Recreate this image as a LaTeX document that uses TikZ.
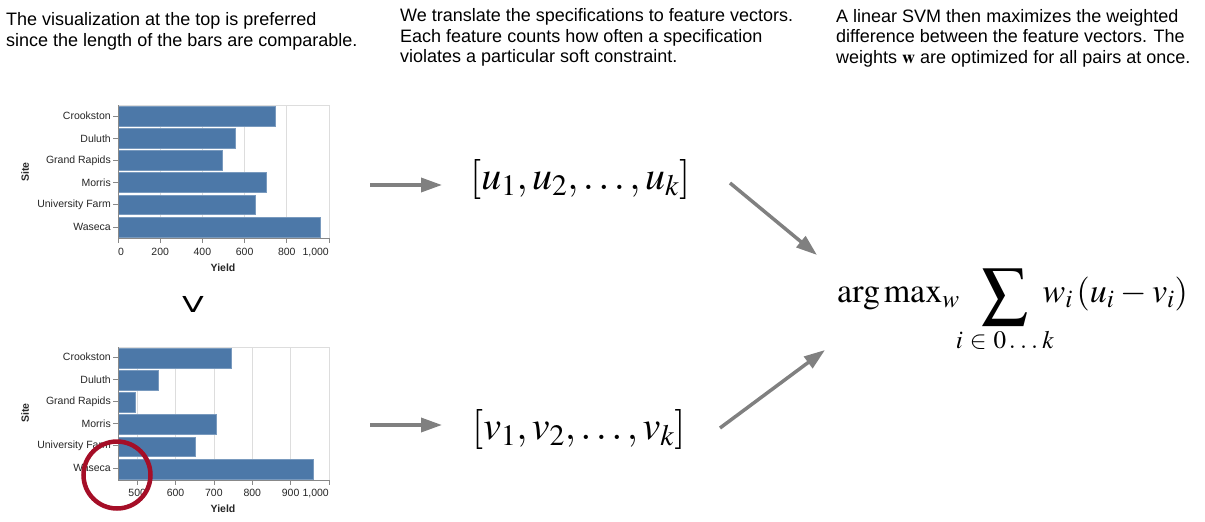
\documentclass[tikz,border=0pt]{standalone}
\usepackage{mathptmx}
\usepackage[no-math]{fontspec}
\setmainfont{Liberation Sans}
\newfontfamily\vfont{DejaVu Sans}
\usetikzlibrary{arrows.meta}
\definecolor{gridc}{HTML}{DDDDDD}
\definecolor{axisc}{HTML}{888888}
\definecolor{barc}{HTML}{4C78A8}
\definecolor{arrc}{HTML}{808080}
\definecolor{circc}{HTML}{A50E27}
\tikzset{
 gridl/.style={draw=gridc, line width=0.8pt},
 axisl/.style={draw=axisc, line width=0.8pt},
 barf/.style={fill=barc, draw=barc!75!white, line width=0.6pt},
 lab/.style={font=\fontsize{10.5}{12}\selectfont, text=black!85, inner sep=0pt},
 ttl/.style={font=\bfseries\fontsize{10.5}{12}\selectfont, text=black!85, inner sep=0pt},
 conn/.style={draw=arrc, line width=3.5pt, -{Triangle[length=21pt,width=14pt]}},
 desc/.style={anchor=north west, align=left, inner sep=0pt, font=\fontsize{18}{20.5}\selectfont},
 vecf/.style={anchor=base west, inner sep=0pt, font=\fontsize{40}{44}\selectfont},
}
\newcommand{\bigsumop}{\mathop{\lower4pt\hbox{$\vcenter{\hbox{\scalebox{1.35}{$\displaystyle\sum$}}}$}}}
\begin{document}
\begin{tikzpicture}[x=1pt,y=-1pt]
\useasboundingbox (0,0) rectangle (1205,522);
% descriptions
\node[desc] (d1) at (6,12.5) {The visualization at the top is preferred\\since the length of the bars are comparable.};
\node[desc] (d2) at (400,8.5) {We translate the specifications to feature vectors.\\Each feature counts how often a specification\\violates a particular soft constraint.};
\node[desc] (d3) at (836,9) {A linear SVM then maximizes the weighted\\difference between the feature vectors. The\\weights $\mathbf{w}$ are optimized for all pairs at once.};
% ---------- top chart ----------
\foreach \g in {200,400,600,800,1000} \draw[gridl] ({118+0.211*\g},105) -- ({118+0.211*\g},238);
\draw[gridl] (118,105) -- (329,105);
\foreach \n/\v [count=\i from 0] in {Crookston/745,Duluth/556,Grand Rapids/496,Morris/705,University Farm/651,Waseca/959}{
  \path[barf] (118,{105+22.17*\i+1.2}) rectangle ({118+0.211*\v},{105+22.17*(\i+1)-1.2});
  \draw[axisl] (113,{105+22.17*(\i+0.5)}) -- (118,{105+22.17*(\i+0.5)});
  \node[lab, anchor=east] (ta\i) at (111,{105+22.17*(\i+0.5)}) {\n};
}
\draw[axisl] (118,105) -- (118,238) -- (329,238);
\foreach \g/\t/\a [count=\j] in {0/0/north west,200/200/north,400/400/north,600/600/north,800/800/north,1000/{1,000}/north east}{
  \draw[axisl] ({118+0.211*\g},238) -- ({118+0.211*\g},243);
  \node[lab, anchor=\a] (tx\j) at ({118+0.211*\g},248) {\t};
}
\node[ttl] (ty1) at (223,267.5) {Yield};
\node[ttl, rotate=90] (ts1) at (25,172) {Site};
% ---------- preference sign ----------
\node[inner sep=0pt, font=\vfont\fontsize{22}{24}\selectfont] (pref) at (193,304.5) {\scalebox{1.45}[1]{V}};
% ---------- bottom chart ----------
\foreach \g in {500,600,700,800,900,1000} \draw[gridl] ({118+0.3836*(\g-450)},347) -- ({118+0.3836*(\g-450)},480);
\draw[gridl] (118,347) -- (329,347);
\foreach \n/\v [count=\i from 0] in {Crookston/745,Duluth/556,Grand Rapids/496,Morris/705,University Farm/651,Waseca/959}{
  \path[barf] (118,{347+22.17*\i+1.2}) rectangle ({118+0.3836*(\v-450)},{347+22.17*(\i+1)-1.2});
  \draw[axisl] (113,{346+22.17*(\i+0.5)}) -- (118,{346+22.17*(\i+0.5)});
  \node[lab, anchor=east] (ba\i) at (111,{346+22.17*(\i+0.5)}) {\n};
}
\draw[axisl] (118,347) -- (118,480) -- (329,480);
\foreach \g/\t/\a [count=\j] in {500/500/north,600/600/north,700/700/north,800/800/north,900/900/north,1000/{1,000}/north east}{
  \draw[axisl] ({118+0.3836*(\g-450)},480) -- ({118+0.3836*(\g-450)},485);
  \node[lab, anchor=\a] (bx\j) at ({118+0.3836*(\g-450)},489) {\t};
}
\node[ttl] (ty2) at (223,509) {Yield};
\node[ttl, rotate=90] (ts2) at (25,413) {Site};
\draw[circc, line width=4.5pt] (117,475) circle (33.5);
% ---------- feature vectors ----------
\node[vecf] (uvec) at (470,189) {$[u_1, u_2, \ldots, u_k]$};
\node[vecf] (vvec) at (472,439) {$[v_1, v_2, \ldots, v_k]$};
\coordinate (ua) at (370,185);
\coordinate (va) at (370,425);
\draw[conn, shorten >=28pt] (ua) -- (uvec.west |- ua);
\draw[conn, shorten >=30pt] (va) -- (vvec.west |- va);
% ---------- objective ----------
\node[anchor=base west, inner sep=0pt, font=\fontsize{34}{40}\selectfont] (obj) at (837,302) {$\displaystyle \arg\max\nolimits_w \mkern-4mu \bigsumop\limits_{i\mkern5mu{\in}\mkern5mu 0\mkern2mu.\mkern3mu.\mkern3mu.\mkern3mu k} \mkern-8mu w_i\mkern2mu(u_i\mkern3mu{-}\mkern3mu v_i)$};
\coordinate (d1s) at (730,183);
\coordinate (d1e) at (817,255);
\coordinate (d2s) at (720,428);
\coordinate (d2e) at (825,350);
\draw[conn] (d1s) -- (d1e);
\draw[conn] (d2s) -- (d2e);
\end{tikzpicture}
\end{document}
